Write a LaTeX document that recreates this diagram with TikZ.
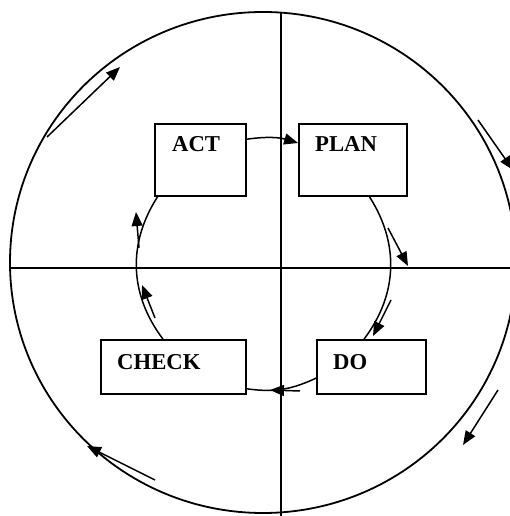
\documentclass[tikz,border=0pt]{standalone}
\usepackage{fontspec}
\setmainfont{Liberation Serif}
\usetikzlibrary{arrows.meta}
\begin{document}
\begin{tikzpicture}[x=1pt,y=1pt,
  pdcabox/.style={draw, line width=1.7pt, inner sep=0pt},
  lbl/.style={anchor=base west, inner sep=0pt, font=\fontsize{22.7}{24}\selectfont\bfseries},
  cyc/.style={line width=1.5pt},
  outerline/.style={line width=1.8pt},
  headarrow/.style={-{Triangle[length=14pt,width=11pt]}}]
\fill[white] (0,0) rectangle (510,516);
\clip (0,0) rectangle (510,516);

% outer circle and axes
\coordinate (ctr) at (263,253.5);
\draw[outerline] (ctr) ellipse[x radius=253, y radius=250.5];
\coordinate (vtop) at (281,503.4);
\coordinate (vbot) at (281,0);
\coordinate (hleft) at (10.5,248);
\coordinate (hright) at (510,248);
\draw[line width=1.6pt] (vtop) -- (vbot);
\draw[line width=1.6pt] (hleft) -- (hright);

% boxes
\node[pdcabox, minimum width=91pt, minimum height=72pt] (act) at (200.5,356) {};
\node[pdcabox, minimum width=108pt, minimum height=72pt] (plan) at (353,356) {};
\node[pdcabox, minimum width=145pt, minimum height=54pt] (check) at (173.5,149) {};
\node[pdcabox, minimum width=109pt, minimum height=54pt] (do) at (371.5,149) {};

\node[lbl] (actl) at (172,364) {ACT};
\node[lbl] (planl) at (315,364) {PLAN};
\node[lbl] (checkl) at (117,146) {CHECK};
\node[lbl] (dol) at (333,146) {DO};

% inner cycle
\draw[cyc, headarrow] ([yshift=20.8pt]act.east) to[out=8, in=163.6] ([yshift=17pt]plan.west);
\draw[cyc] ([xshift=16.5pt]plan.south) to[out=-57.3, in=52.9] ([xshift=-7.5pt]do.north);
\draw[cyc] ([yshift=-11.1pt]do.west) to[out=-154.9, in=-8] ([yshift=-21.8pt]check.east);
\draw[cyc] ([xshift=-10.5pt]check.north) to[out=127.1, in=237.3] ([xshift=-43pt]act.south);

% short inner arrows
\coordinate (r1a) at (388,288); \coordinate (r1b) at (408,250);
\coordinate (r2a) at (391,216); \coordinate (r2b) at (373,180);
\coordinate (b1a) at (300,125); \coordinate (b1b) at (270,126);
\coordinate (l1a) at (155,198); \coordinate (l1b) at (142,231);
\coordinate (l2a) at (139,268); \coordinate (l2b) at (136,304);
\draw[cyc, headarrow] (r1a) -- (r1b);
\draw[cyc, headarrow] (r2a) -- (r2b);
\draw[cyc, headarrow] (b1a) -- (b1b);
\draw[cyc, headarrow] (l1a) -- (l1b);
\draw[cyc, headarrow] (l2a) -- (l2b);

% outer arrows
\coordinate (oa1) at (47,379); \coordinate (oa2) at (120,449);
\coordinate (ob1) at (478,396); \coordinate (ob2) at (513,346);
\coordinate (oc1) at (498,126); \coordinate (oc2) at (463,71);
\coordinate (od1) at (155,36); \coordinate (od2) at (87,70);
\draw[cyc, headarrow] (oa1) -- (oa2);
\draw[cyc, headarrow] (ob1) -- (ob2);
\draw[cyc, headarrow] (oc1) -- (oc2);
\draw[cyc, headarrow] (od1) -- (od2);
\end{tikzpicture}
\end{document}
